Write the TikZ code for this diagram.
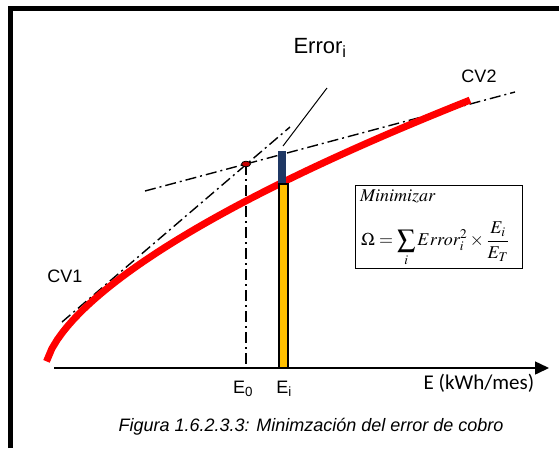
\documentclass[tikz,border=0pt]{standalone}
\usepackage{amsmath}
\usepackage{mathptmx}
\usepackage[no-math]{fontspec}
\setmainfont{Liberation Sans}
\newfontfamily\calib{Carlito}
\usetikzlibrary{arrows.meta, calc, positioning}
\definecolor{curvered}{RGB}{255,0,0}
\definecolor{errblue}{RGB}{31,56,100}
\definecolor{baryellow}{RGB}{255,192,0}
\definecolor{dotred}{RGB}{200,0,0}

\begin{document}
\begin{tikzpicture}[x=1pt, y=-1pt,
    dashdot/.style={line width=1.4pt, dash pattern=on 11pt off 4pt on 2pt off 4pt},
    lbl/.style={inner sep=0pt, font=\fontsize{18}{21}\selectfont},
    mathlbl/.style={inner sep=0pt, font=\fontsize{18}{21}\selectfont},
  ]
  \useasboundingbox (0,0) rectangle (559,448);
  % frame
  \draw[line width=5pt] (10.5,448) -- (10.5,8.5) -- (559,8.5);

  % axis
  \coordinate (orig) at (54,368);
  \coordinate (xend) at (549,368);
  \draw[line width=1.5pt, -{Triangle[length=14pt,width=13pt]}] (orig) -- (xend);

  % points used by the lines
  \coordinate (e0pt) at (246,164);
  \coordinate (tana) at (62,322);
  \coordinate (tanb) at (290,127);
  \coordinate (tanc) at (145,191);
  \coordinate (tand) at (515,92);

  % tangents and E0 drop
  \draw[dashdot] (tana) -- (tanb);
  \draw[dashdot] (tanc) -- (tand);
  \draw[dashdot] (e0pt) -- (e0pt |- orig);

  % red curve
  \draw[curvered, line width=7pt] plot[domain=46.5:470, samples=80]
    (\x, {368-5.92*(\x-45.3)^0.63});

  % bars at Ei
  \draw[fill=baryellow, line width=1.3pt] (279,184) rectangle (288,368);
  \fill[errblue] (278,151) rectangle (286,183);

  \draw[fill=dotred, line width=0.8pt] (e0pt) ellipse (4.5pt and 2.8pt);

  % labels
  \node[inner sep=0pt, font=\fontsize{22}{25}\selectfont] (errlbl) at (320,48) {Error\textsubscript{i}};
  \coordinate (ldrtop) at (327,88);
  \coordinate (ldrbot) at (283,146);
  \draw[line width=1pt] (ldrtop) -- (ldrbot);

  \node[lbl] (cvone) at (65,276) {CV1};
  \node[lbl] (cvtwo) at (479,76) {CV2};
  \node[lbl] (eolbl) at (243,389) {E\textsubscript{0}};
  \node[lbl] (eilbl) at (284,389) {E\textsubscript{i}};
  \node[inner sep=0pt, font=\calib\fontsize{21}{24}\selectfont] (xlbl) at (479,383) {E (kWh/mes)};

  % formula box
  \node[draw, line width=1.3pt, minimum width=167pt, minimum height=83pt,
        anchor=north west] (mini) at (355,185) {};
  \node[mathlbl, anchor=north west] (minitxt) at ($(mini.north west)+(5,4)$)
    {$\mathit{Minimizar}$};
  \node[mathlbl, anchor=west] (omega) at ($(mini.west)+(6,17)$)
    {$\displaystyle\Omega=\sum_i Error_i^2\times\frac{E_i}{E_T}$};

  % caption
  \node[inner sep=0pt, font=\itshape\fontsize{18}{21}\selectfont] (capt) at (311,427)
    {Figura 1.6.2.3.3: Minimzación del error de cobro};
\end{tikzpicture}
\end{document}
